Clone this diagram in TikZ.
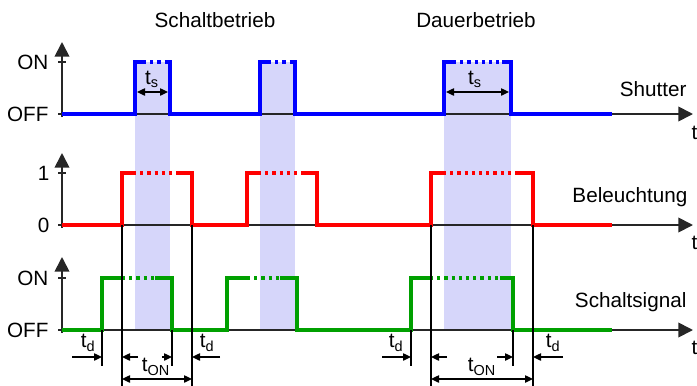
\documentclass[tikz,border=0pt]{standalone}
\usepackage{fontspec}
\setmainfont{Liberation Sans}
\usetikzlibrary{positioning,arrows.meta}
\definecolor{sigblue}{RGB}{0,0,255}
\definecolor{sigred}{RGB}{255,0,0}
\definecolor{siggreen}{RGB}{0,160,0}
\definecolor{bandfill}{RGB}{214,214,250}

\begin{document}
\begin{tikzpicture}
            [x=0.75pt,y=-0.75pt,
             every node/.style={font=\fontsize{15.5}{18}\selectfont, inner sep=1pt},
             axis/.style={line width=1.3pt, color=black!85, -{Triangle[length=11pt,width=11pt]}},
             tickmark/.style={line width=1.3pt, color=black!85},
             sig/.style={line width=2.8pt, line join=miter},
             dots/.style={line width=2.8pt, dash pattern=on 2.4pt off 3pt},
             guide/.style={line width=1pt},
             dim/.style={line width=1pt, -{Triangle[length=6pt,width=5.5pt]}},
             dimboth/.style={line width=1pt, {Triangle[length=6pt,width=5.5pt]}-{Triangle[length=6pt,width=5.5pt]}}]

            \useasboundingbox (0,0) rectangle (697,386);

            % shaded shutter windows
            \fill[bandfill] (135,62) rectangle (170,330);
            \fill[bandfill] (260,62) rectangle (295,330);
            \fill[bandfill] (444,62) rectangle (511,330);

            % titles
            \node (schalt) at (215,20) {Schaltbetrieb};
            \node (dauer) at (476,20) {Dauerbetrieb};

            % axes
            \draw[axis] (62,117) -- (62,42);
            \draw[axis] (62,114) -- (693,114);
            \draw[tickmark] (58,62) -- (66,62);
            \draw[tickmark] (58,114) -- (62,114);
            \draw[axis] (62,228) -- (62,153);
            \draw[axis] (62,225) -- (693,225);
            \draw[tickmark] (58,173) -- (66,173);
            \draw[tickmark] (58,225) -- (62,225);
            \draw[axis] (62,333) -- (62,257);
            \draw[axis] (62,330) -- (693,330);
            \draw[tickmark] (58,278) -- (66,278);
            \draw[tickmark] (58,330) -- (62,330);

            \node[anchor=east] (on1) at (50,62) {ON};
            \node[anchor=east] (off1) at (50,114) {OFF};
            \node[anchor=east] (one) at (51,173) {1};
            \node[anchor=east] (zero) at (51,225) {0};
            \node[anchor=east] (on3) at (50,278) {ON};
            \node[anchor=east] (off3) at (50,330) {OFF};

            \node[anchor=east] (shutter) at (688,89) {Shutter};
            \node[anchor=east] (licht) at (689,197) {Beleuchtung};
            \node[anchor=east] (signal) at (688,302) {Schaltsignal};
            \node[anchor=west] (t1) at (690,133) {t};
            \node[anchor=west] (t2) at (690,243) {t};
            \node[anchor=west] (t3) at (690,348) {t};

            % shutter
            \draw[sig, sigblue] (62,114) -- (135,114) -- (135,62) -- (143,62);
            \draw[dots, sigblue] (143,62) -- (165,62);
            \draw[sig, sigblue] (165,62) -- (170,62) -- (170,114) -- (260,114) -- (260,62) -- (268,62);
            \draw[dots, sigblue] (268,62) -- (290,62);
            \draw[sig, sigblue] (290,62) -- (295,62) -- (295,114) -- (444,114) -- (444,62) -- (453,62);
            \draw[dots, sigblue] (453,62) -- (502,62);
            \draw[sig, sigblue] (502,62) -- (511,62) -- (511,114) -- (612,114);

            % Beleuchtung
            \draw[sig, sigred] (62,225) -- (122,225) -- (122,173) -- (133,173);
            \draw[dots, sigred] (133,173) -- (178,173);
            \draw[sig, sigred] (178,173) -- (192,173) -- (192,225) -- (247,225) -- (247,173) -- (258,173);
            \draw[dots, sigred] (258,173) -- (303,173);
            \draw[sig, sigred] (303,173) -- (317,173) -- (317,225) -- (431,225) -- (431,173) -- (443,173);
            \draw[dots, sigred] (443,173) -- (518,173);
            \draw[sig, sigred] (518,173) -- (533,173) -- (533,225) -- (612,225);

            % Schaltsignal
            \draw[sig, siggreen] (62,330) -- (102,330) -- (102,278) -- (122,278);
            \draw[dots, siggreen] (122,278) -- (155,278);
            \draw[sig, siggreen] (155,278) -- (172,278) -- (172,330) -- (227,330) -- (227,278) -- (247,278);
            \draw[dots, siggreen] (247,278) -- (280,278);
            \draw[sig, siggreen] (280,278) -- (297,278) -- (297,330) -- (411,330) -- (411,278) -- (430,278);
            \draw[dots, siggreen] (430,278) -- (500,278);
            \draw[sig, siggreen] (500,278) -- (513,278) -- (513,330) -- (612,330);

            % guide lines
            \draw[guide] (122,225) -- (122,386);
            \draw[guide] (192,225) -- (192,386);
            \draw[guide] (431,225) -- (431,386);
            \draw[guide] (533,225) -- (533,386);
            \draw[guide] (102,330) -- (102,366);
            \draw[guide] (172,330) -- (172,366);
            \draw[guide] (411,330) -- (411,366);
            \draw[guide] (513,330) -- (513,366);

            % t_s
            \draw[dimboth] (137,92) -- (168,92);
            \node (ts1) at (152,79) {t\textsubscript{s}};
            \draw[dimboth] (446,92) -- (509,92);
            \node (ts2) at (475,79) {t\textsubscript{s}};

            % t_d and t_ON
            \draw[dim] (72,357) -- (102,357);
            \draw[dim] (138,357) -- (122,357);
            \draw[dim] (162,357) -- (172,357);
            \draw[dim] (220,357) -- (192,357);
            \node (td1) at (88,343) {t\textsubscript{d}};
            \node (td2) at (207,343) {t\textsubscript{d}};
            \draw[dimboth] (122,379) -- (192,379);
            \node (ton1) at (156,367) {t\textsubscript{ON}};

            \draw[dim] (382,357) -- (411,357);
            \draw[dim] (447,357) -- (431,357);
            \draw[dim] (497,357) -- (513,357);
            \draw[dim] (563,357) -- (533,357);
            \node (td3) at (396,343) {t\textsubscript{d}};
            \node (td4) at (553,343) {t\textsubscript{d}};
            \draw[dimboth] (431,379) -- (533,379);
            \node (ton2) at (482,367) {t\textsubscript{ON}};
\end{tikzpicture}
\end{document}
